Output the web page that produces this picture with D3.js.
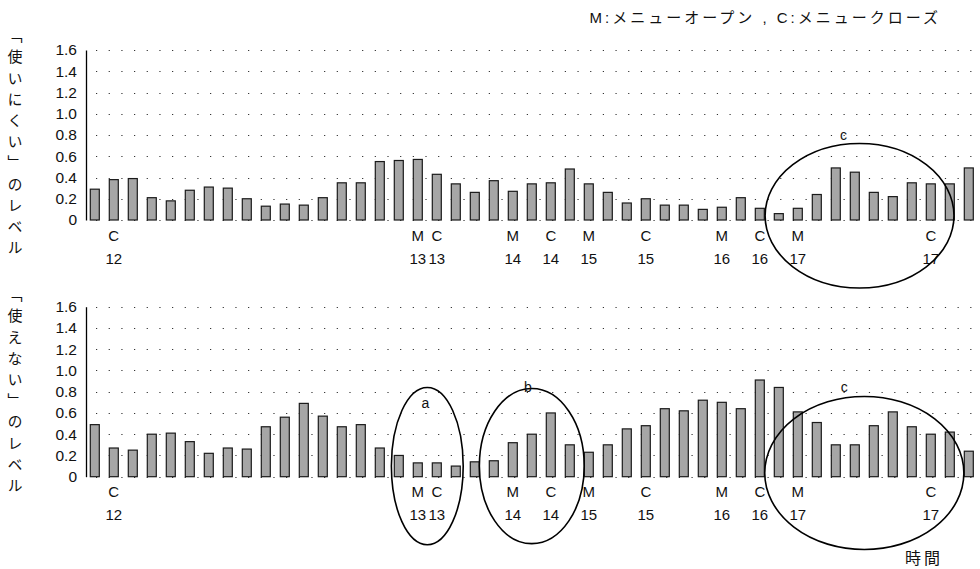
<!DOCTYPE html>
<html><head><meta charset="utf-8">
<script src="https://cdn.jsdelivr.net/npm/d3@7/dist/d3.min.js"></script>
<style>
html,body{margin:0;padding:0;background:#fff;}
svg{display:block;font-family:"Liberation Sans",Arial,"Noto Sans CJK JP",sans-serif;}
</style></head>
<body>
<svg id="chart" width="980" height="569"></svg>
<script>
// ---- data ----
const barIndex = d3.range(47);
const topValues = [0.29,0.38,0.39,0.21,0.18,0.28,0.31,0.30,0.20,0.13,0.15,0.14,0.21,0.35,0.35,0.55,0.56,0.57,0.43,0.34,0.26,0.37,
  0.27,0.34,0.35,0.48,0.34,0.26,0.16,0.20,0.14,0.14,0.10,0.12,0.21,0.11,0.06,0.11,0.24,0.49,0.45,0.26,0.22,0.35,0.34,0.34,0.49];
const bottomValues = [0.49,0.27,0.25,0.40,0.41,0.33,0.22,0.27,0.26,0.47,0.56,0.69,0.57,0.47,0.49,0.27,0.20,0.13,0.13,0.10,0.14,0.15,
  0.32,0.40,0.60,0.30,0.23,0.30,0.45,0.48,0.64,0.62,0.72,0.70,0.64,0.91,0.84,0.61,0.51,0.30,0.30,0.48,0.61,0.47,0.40,0.42,0.24];
const eventIndex = [1,17,18,22,24,26,29,33,35,37,44];
const eventLetter = ["C","M","C","M","C","M","C","M","C","M","C"];
const eventHour = ["12","13","13","14","14","15","15","16","16","17","17"];
const yTicks = [0,0.2,0.4,0.6,0.8,1.0,1.2,1.4,1.6];
const titleText = "M:メニューオープン , C:メニュークローズ";
const topYLabel = "「使いにくい」のレベル";
const bottomYLabel = "「使えない」のレベル";
const xLabel = "時間";
// annotation ellipses: centre (bar index, value), radii (bars, value units), label
const topCircles = [{i:40.25, v:0.04, ri:4.97, rv:0.68, label:"c", li:39.4, lv:0.80}];
const bottomCircles = [
  {i:17.5, v:0.10, ri:1.89, rv:0.74, label:"a", li:17.4, lv:0.69},
  {i:23.0, v:0.10, ri:2.76, rv:0.73, label:"b", li:22.8, lv:0.84},
  {i:40.5, v:0.035, ri:5.24, rv:0.72, label:"c", li:39.45, lv:0.84}
];

// ---- drawing ----
const svg = d3.select("#chart");
const x = d3.scaleBand().domain(barIndex).range([86, 977.6]).paddingInner(10/19).paddingOuter(0.226);
const bw = x.bandwidth();
const step = x.step();
const xc = i => x(0) + bw/2 + i*step;

function panel(values, y0, y1, circles, ylabel, labelTop) {
  const y = d3.scaleLinear().domain([0,1.6]).range([y0,y1]);
  const g = svg.append("g");
  // grid
  g.selectAll("line.grid").data(yTicks).join("line")
    .attr("x1",86).attr("x2",980)
    .attr("y1",d=>Math.round(y(d))+0.5).attr("y2",d=>Math.round(y(d))+0.5)
    .attr("stroke","#333").attr("stroke-width",1)
    .attr("stroke-dasharray","1.2,11.47").attr("stroke-dashoffset",-10);
  // bars
  g.selectAll("rect").data(values).join("rect")
    .attr("x",(d,i)=>x(i)).attr("width",bw)
    .attr("y",d=>y(d)).attr("height",d=>y(0)-y(d))
    .attr("fill","#a6a6a6").attr("stroke","#1a1a1a").attr("stroke-width",1.2);
  // axis
  const ax = g.append("g").attr("transform","translate(86,0)")
    .call(d3.axisLeft(y).tickValues(yTicks).tickSize(0).tickSizeOuter(0).tickPadding(9)
      .tickFormat(d=>d===0?"0":d3.format(".1f")(d)));
  ax.select(".domain").attr("stroke","#000").attr("stroke-width",1.3);
  ax.selectAll("text").attr("font-size",15.5).attr("fill","#111")
    .attr("font-family","'Liberation Sans',Arial,sans-serif");
  // event labels
  g.selectAll("text.ev").data(eventIndex).join("text").attr("class","ev")
    .attr("x",d=>xc(d)).attr("y",y0+20.5).attr("text-anchor","middle")
    .attr("font-size",15).attr("fill","#111").text((d,k)=>eventLetter[k]);
  g.selectAll("text.hr").data(eventIndex).join("text").attr("class","hr")
    .attr("x",d=>xc(d)).attr("y",y0+43.5).attr("text-anchor","middle")
    .attr("font-size",15).attr("fill","#111").text((d,k)=>eventHour[k]);
  // ellipses
  const py = y(0)-y(1);
  g.selectAll("ellipse").data(circles).join("ellipse")
    .attr("cx",d=>xc(d.i)).attr("cy",d=>y(d.v))
    .attr("rx",d=>d.ri*step).attr("ry",d=>d.rv*py)
    .attr("fill","none").attr("stroke","#000").attr("stroke-width",1.6);
  g.selectAll("text.an").data(circles).join("text").attr("class","an")
    .attr("x",d=>xc(d.li)).attr("y",d=>y(d.lv)+5).attr("text-anchor","middle")
    .attr("font-size",14).attr("fill","#111").text(d=>d.label);
  // y label (vertical)
  svg.append("text")
    .attr("x",15).attr("y",labelTop)
    .attr("writing-mode","vertical-rl")
    .attr("font-family","'Noto Sans CJK JP',sans-serif")
    .attr("font-size",15).attr("letter-spacing",6.2)
    .attr("fill","#111").text(ylabel);
}

panel(topValues, 220, 50, topCircles, topYLabel, 28);
panel(bottomValues, 476.7, 306.7, bottomCircles, bottomYLabel, 287);

svg.append("text").attr("x",941).attr("y",23).attr("text-anchor","end")
  .attr("font-size",15).attr("letter-spacing",3).attr("fill","#111")
  .attr("font-family","'Liberation Sans','Noto Sans CJK JP',sans-serif").text(titleText);
svg.append("text").attr("x",905).attr("y",564)
  .attr("font-size",16).attr("letter-spacing",3).attr("fill","#111")
  .attr("font-family","'Noto Sans CJK JP',sans-serif").text(xLabel);
</script>
</body></html>
